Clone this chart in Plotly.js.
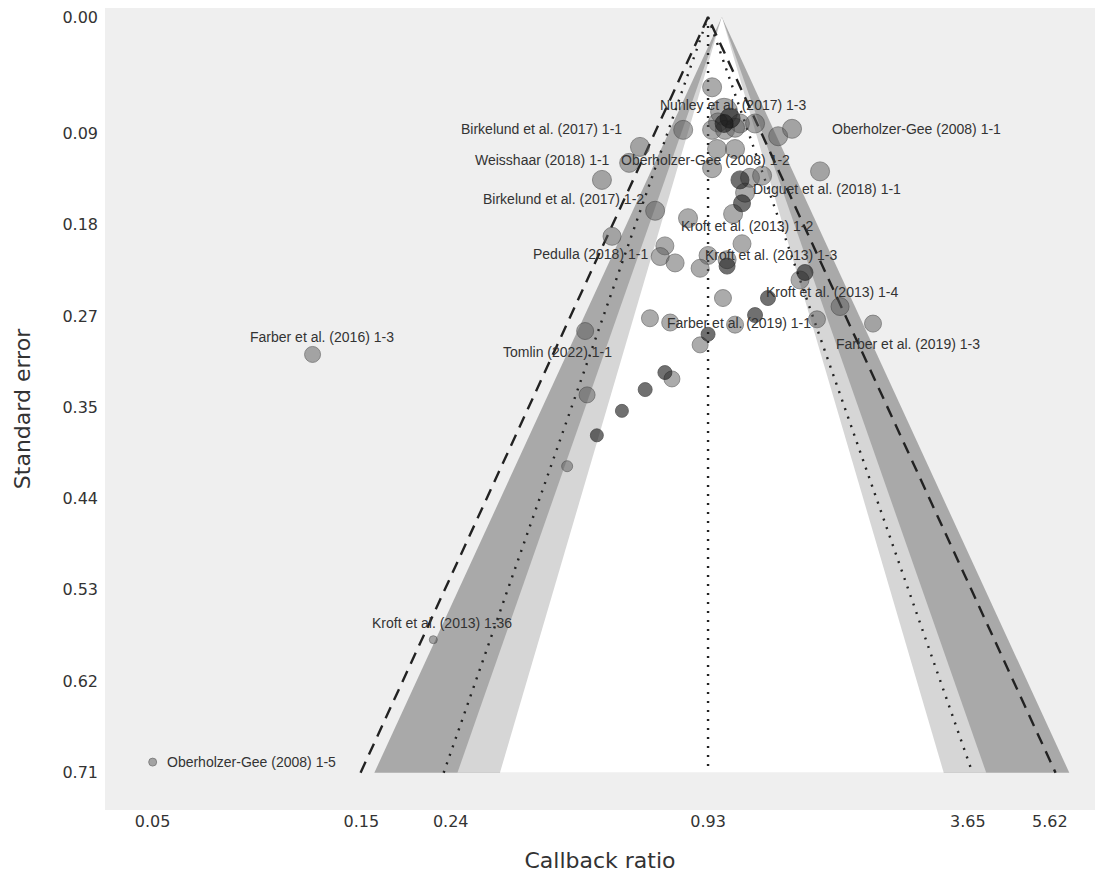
<!DOCTYPE html>
<html>
<head>
<meta charset="utf-8">
<script src="https://cdn.plot.ly/plotly-3.0.1.min.js"></script>
<style>body{margin:0;background:#fff}#funnel{width:1108px;height:885px}</style>
</head>
<body>
<div id="funnel"></div>
<script>
// studies: callback ratio and standard error
var ratio_gray = [0.950,1.012,0.980,1.100,1.191,0.950,1.017,1.072,0.816,1.345,1.447,0.650,0.975,1.072,0.614,0.950,0.532,1.160,1.236,1.130,1.677,1.061,0.837,0.704,0.561,1.112,0.741,0.723,0.782,0.930,0.892,1.028,1.509,1.863,1.006,0.685,0.762,1.072,1.650,2.216,0.487,0.892,0.769,0.492,0.443,0.116,0.219,0.050];
var se_gray    = [0.066,0.089,0.099,0.100,0.100,0.106,0.106,0.104,0.106,0.112,0.105,0.122,0.124,0.124,0.137,0.142,0.153,0.151,0.149,0.165,0.145,0.185,0.189,0.182,0.206,0.213,0.215,0.225,0.231,0.224,0.236,0.228,0.247,0.272,0.264,0.283,0.287,0.289,0.284,0.288,0.295,0.308,0.340,0.355,0.422,0.317,0.585,0.700];
var size_gray  = [19,27,19,19,19,19,19,19,19,19,19,19,19,19,19,19,19,19,19,19,19,19,19,19,18,18,18,18,18,18,18,18,18,18,17,17,17,17,17,17,17,16,16,16,11,16,8,8];
var ratio_dark = [1.044,1.012,1.100,1.112,1.028,1.549,1.275,1.191,0.930,0.741,0.668,0.591,0.518];
var se_dark    = [0.095,0.100,0.153,0.175,0.234,0.240,0.264,0.280,0.298,0.334,0.350,0.370,0.393];
var size_dark  = [20,18,18,17,16,16,15,15,14,14,14,13,13];

var label_text = ["Nunley et al. (2017) 1-3","Birkelund et al. (2017) 1-1","Oberholzer-Gee (2008) 1-1","Weisshaar (2018) 1-1","Oberholzer-Gee (2008) 1-2","Duguet et al. (2018) 1-1","Birkelund et al. (2017) 1-2","Kroft et al. (2013) 1-2","Pedulla (2018) 1-1","Kroft et al. (2013) 1-3","Kroft et al. (2013) 1-4","Farber et al. (2019) 1-1","Farber et al. (2016) 1-3","Tomlin (2022) 1-1","Farber et al. (2019) 1-3","Kroft et al. (2013) 1-36","Oberholzer-Gee (2008) 1-5"];
var label_x = [1.061,0.388,2.79,0.390,0.920,1.739,0.434,1.147,0.500,1.302,1.787,1.095,0.122,0.422,2.66,0.229,0.0534];
var label_y = [0.083,0.105,0.105,0.134,0.134,0.162,0.171,0.196,0.223,0.224,0.258,0.287,0.301,0.315,0.307,0.569,0.700];

var pooled = 0.93;
var se_max = 0.71;
var xtick_vals = [0.05,0.15,0.24,0.93,3.65,5.62];
var ytick_text = ["0.00","0.09","0.18","0.27","0.35","0.44","0.53","0.62","0.71"];
var ytick_vals = [0,0.109,0.195,0.281,0.367,0.452,0.538,0.624,0.71];

function tri(center, z, color){
    return {
        x: [center, center*Math.exp(-z*se_max), center*Math.exp(z*se_max), center],
        y: [0, se_max, se_max, 0],
        type: 'scatter', mode: 'lines', fill: 'toself', fillcolor: color,
        line: {width: 0}, hoverinfo: 'skip', showlegend: false
    };
}
function edge(z, dash){
    return {
        x: [pooled*Math.exp(-z*se_max), pooled, pooled*Math.exp(z*se_max)],
        y: [se_max, 0, se_max],
        type: 'scatter', mode: 'lines',
        line: {color: '#222', width: 2.4, dash: dash}, hoverinfo: 'skip', showlegend: false
    };
}

var data = [
    tri(1, 2.576, '#a9a9a9'),
    tri(1, 1.96, '#d6d6d6'),
    tri(1, 1.645, '#ffffff'),
    edge(2.576, '12px,8px'),
    edge(1.96, '2px,7px'),
    {x: [pooled, pooled], y: [0, se_max], type: 'scatter', mode: 'lines',
     line: {color: '#222', width: 2.4, dash: '2px,7px'}, showlegend: false},
    {x: ratio_gray, y: se_gray, type: 'scatter', mode: 'markers', showlegend: false,
     marker: {size: size_gray, color: 'rgba(90,90,90,0.72)', line: {color: 'rgba(60,60,60,0.75)', width: 1}}},
    {x: ratio_dark, y: se_dark, type: 'scatter', mode: 'markers', showlegend: false,
     marker: {size: size_dark, color: 'rgba(25,25,25,0.88)', line: {color: 'rgba(15,15,15,0.8)', width: 1}}}
];

var annotations = label_text.map(function(t, i){
    return {x: Math.log10(label_x[i]), y: label_y[i], text: t, showarrow: false,
        xanchor: i == label_text.length-1 ? 'left' : 'center',
        font: {family: 'Liberation Sans, Arial', size: 14, color: '#333'}};
});

var layout = {
    width: 1108, height: 885,
    margin: {t: 8, b: 75, l: 105, r: 13},
    paper_bgcolor: '#ffffff', plot_bgcolor: '#efefef',
    font: {family: 'DejaVu Sans', size: 16, color: '#333'},
    xaxis: {type: 'log', range: [-1.41, 0.853], tickvals: xtick_vals, ticktext: xtick_vals.map(String),
        showgrid: false, zeroline: false, ticks: '', ticklen: 0,
        title: {text: 'Callback ratio', font: {size: 22}, standoff: 22}},
    yaxis: {range: [0.745, -0.0085], tickvals: ytick_vals, ticktext: ytick_text,
        showgrid: false, zeroline: false, ticks: '', ticklabelstandoff: 6,
        title: {text: 'Standard error', font: {size: 22}, standoff: 25}},
    annotations: annotations
};

Plotly.newPlot('funnel', data, layout, {displayModeBar: false});
</script>
</body>
</html>
